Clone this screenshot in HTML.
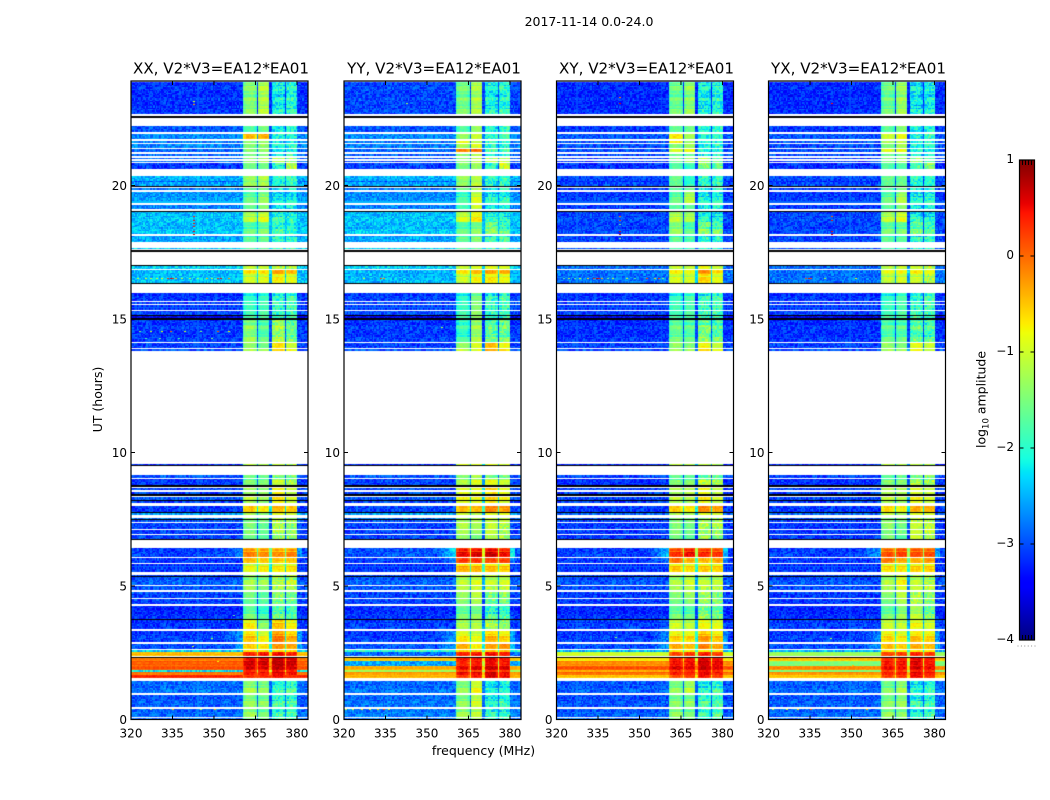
<!DOCTYPE html>
<html lang="en">
<head>
<meta charset="utf-8">
<title>2017-11-14 0.0-24.0</title>
<style>
html,body{margin:0;padding:0;background:#fff;}
#figure{position:relative;width:1050px;height:800px;overflow:hidden;background:#fff;}
#figure canvas{position:absolute;}
#overlay{position:absolute;left:0;top:0;}
text{font-family:"DejaVu Sans","Liberation Sans",sans-serif;fill:#000;}
</style>
</head>
<body>
<div id="figure">
<svg id="overlay" width="1050" height="800" viewBox="0 0 1050 800">
<text x="589" y="26" text-anchor="middle" font-size="12.5">2017-11-14 0.0-24.0</text>
<text x="0" y="0" transform="translate(102,399.5) rotate(-90)" text-anchor="middle" font-size="12.5">UT (hours)</text>
<text x="483.5" y="755" text-anchor="middle" font-size="12.5">frequency (MHz)</text>
<text x="0" y="0" transform="translate(985.5,399.5) rotate(-90)" text-anchor="middle" font-size="12.5">log<tspan font-size="8.5" dy="3">10</tspan><tspan dy="-3"> amplitude</tspan></text>
</svg>
</div>
<script>
// ---------- chart data ----------
const panelTitles = ["XX, V2*V3=EA12*EA01","YY, V2*V3=EA12*EA01","XY, V2*V3=EA12*EA01","YX, V2*V3=EA12*EA01"];
const xTickValues = [320,335,350,365,380];
const yTickValues = [0,5,10,15,20];
const colorbarTicks = [1,0,-1,-2,-3,-4];
// band edges in MHz: four bright bands separated by narrow notches
const bandEdges = [[360.5,365.2],[365.7,370.0],[370.6,375.3],[375.7,380.0]];
// observed UT intervals (hours): everything else is blank
const segmentTimes = [
[22.66,23.88],[22.01,22.23],[21.74,21.94],[21.60,21.67],[21.42,21.54],[21.25,21.36],[21.12,21.19],[20.99,21.04],[20.88,20.92],[20.61,20.83],
[20.17,20.34],[20.14,20.17],[20.07,20.14],[20.04,20.07],[19.98,20.04],[19.85,19.92],[19.36,19.77],[19.11,19.27],[18.63,19.02],[18.19,18.63],
[17.87,18.11],[17.61,17.66],[16.88,16.97],[16.68,16.85],[16.36,16.68],[15.69,15.97],[15.57,15.64],[15.35,15.52],[15.15,15.30],[15.02,15.10],
[14.14,14.99],[13.90,14.10],[13.81,13.87],[9.53,9.57],[9.04,9.16],[8.77,9.00],[8.60,8.68],[8.46,8.52],[8.22,8.33],[8.12,8.22],
[7.77,7.98],[7.65,7.72],[7.50,7.54],[7.40,7.47],[7.14,7.36],[6.95,7.08],[6.75,6.92],[6.09,6.42],[5.87,6.04],[5.54,5.81],
[5.37,5.41],[5.04,5.33],[4.85,5.00],[4.55,4.76],[4.31,4.50],[3.76,4.26],[3.40,3.72],[2.91,3.31],[2.64,2.84],[2.53,2.60],
[2.36,2.52],[2.18,2.33],[2.00,2.18],[1.85,2.00],[1.78,1.85],[1.68,1.78],[1.55,1.68],[0.99,1.44],[0.48,0.93],[0.10,0.39],[0.02,0.07]];
// log10 amplitude per segment: [background, band1, band2, band3, band4, optional shoulder]
const levelsXX = [
[-3.15,-1.45,-1.2,-2.15,-2.05],[-3.0,-1.9,-1.7,-2.3,-2.2],[-2.75,-0.6,-0.55,-2.25,-2.2],[-2.8,-1.5,-1.4,-2.3,-2.2],[-2.75,-1.6,-1.5,-2.2,-2.1],[-2.95,-1.6,-1.5,-2.3,-2.2],[-2.9,-1.6,-1.6,-2.2,-2.0],[-2.9,-1.5,-1.3,-1.3,-1.4],[-2.9,-1.5,-1.3,-1.2,-1.3],[-3.15,-1.7,-1.75,-2.2,-1.3],
[-2.55,-1.4,-1.3,-2.1,-2.0],[-2.95,-1.6,-1.5,-2.2,-2.1],[-2.6,-1.4,-1.3,-2.1,-2.0],[-3.0,-1.6,-1.5,-2.2,-2.2],[-2.6,-1.3,-1.2,-2.1,-2.1],[-2.8,-1.7,-1.6,-2.3,-2.2],[-2.65,-1.7,-1.45,-2.3,-2.2],[-2.8,-1.8,-1.6,-2.4,-2.3],[-2.45,-1.2,-1.0,-2.0,-2.1],[-2.45,-1.7,-1.55,-1.9,-2.0],
[-2.6,-1.8,-1.75,-2.1,-2.1],[-2.4,-1.8,-1.8,-2.0,-2.0],[-2.4,-1.2,-1.2,-1.3,-1.3],[-2.5,-0.8,-0.8,-0.45,-0.6],[-2.45,-1.1,-1.0,-0.85,-1.0],[-3.15,-2.1,-2.0,-2.1,-1.9],[-3.1,-2.0,-1.9,-2.0,-1.9],[-3.15,-2.05,-2.0,-2.1,-2.0],[-3.1,-2.0,-1.9,-2.1,-2.0],[-3.5,-1.9,-1.9,-2.0,-2.0],
[-3.1,-1.4,-1.7,-1.3,-1.6],[-3.1,-1.5,-1.7,-0.8,-1.2],[-3.0,-1.3,-1.4,-0.6,-0.9],[-3.2,-1.2,-1.3,-1.2,-1.3],[-3.0,-1.7,-1.8,-1.8,-1.7],[-3.15,-1.6,-1.6,-1.2,-1.4],[-3.1,-1.4,-1.5,-0.9,-1.2],[-3.1,-1.4,-1.4,-0.9,-1.2],[-3.0,-1.2,-1.4,-0.8,-1.1],[-3.1,-1.3,-1.5,-0.9,-1.2],
[-3.15,-0.7,-0.9,-0.6,-0.7],[-2.6,-1.3,-1.5,-1.0,-1.1],[-2.8,-1.5,-1.6,-1.2,-1.3],[-3.0,-1.6,-1.6,-1.3,-1.3],[-3.1,-1.6,-1.8,-1.4,-1.5],[-3.1,-1.6,-1.8,-1.4,-1.5],[-3.1,-1.7,-1.9,-1.5,-1.6],[-3.1,-0.25,-0.3,-0.35,-0.3,-2.7],[-3.15,-0.55,-0.65,-0.65,-0.6],[-3.15,-0.95,-0.85,-0.85,-0.8],
[-3.1,-1.4,-1.5,-1.4,-1.3],[-2.95,-1.35,-1.4,-1.3,-1.25],[-3.0,-1.4,-1.6,-1.4,-1.4],[-3.1,-1.7,-1.9,-1.6,-1.7],[-3.1,-1.8,-1.9,-1.7,-1.8],[-3.2,-1.6,-1.9,-1.7,-1.8],[-3.15,-0.85,-1.5,-0.6,-0.9],[-3.1,-0.6,-0.9,-0.2,-0.5,-2.6],[-3.05,-0.7,-0.8,-0.4,-0.5,-2.6],[-2.4,-0.7,-0.7,-0.7,-0.7],
[-0.65,0.25,0.3,0.35,0.25],[-0.3,0.4,0.45,0.55,0.45],[-0.15,0.5,0.5,0.6,0.5],[-0.1,0.45,0.45,0.55,0.45],[-2.3,0.25,0.25,0.35,0.3],[-0.25,0.3,0.35,0.45,0.35],[0.15,0.15,0.2,0.35,0.2],[-2.85,-1.35,-1.45,-2.0,-1.9],[-2.95,-1.4,-1.5,-1.9,-1.9],[-2.9,-1.4,-1.6,-2.0,-1.9],[-2.9,-1.6,-1.6,-1.9,-1.9]];
const levelsYY = [
[-3.05,-1.55,-1.25,-2.1,-2.0],[-3.0,-1.9,-1.5,-2.2,-2.1],[-2.75,-1.5,-1.2,-2.1,-2.0],[-2.8,-0.9,-1.2,-2.1,-2.1],[-2.8,-1.4,-1.1,-2.15,-2.1],[-2.9,-0.3,-0.2,-2.0,-2.0],[-2.95,-1.5,-1.3,-2.2,-2.1],[-3.0,-1.5,-1.2,-1.3,-1.4],[-3.0,-1.5,-1.2,-1.2,-1.3],[-3.1,-1.7,-1.5,-2.1,-1.3],
[-2.55,-1.4,-1.3,-2.1,-2.0],[-2.95,-1.6,-1.4,-2.2,-2.1],[-2.6,-1.4,-1.2,-2.1,-2.0],[-3.0,-1.6,-1.5,-2.2,-2.2],[-2.6,-1.4,-1.1,-2.1,-2.1],[-2.8,-1.6,-1.3,-2.2,-2.1],[-2.7,-1.9,-1.05,-2.2,-2.1],[-2.8,-2.0,-1.2,-2.3,-2.2],[-2.45,-1.05,-0.8,-2.0,-2.1],[-2.45,-1.7,-1.5,-1.55,-1.8],
[-2.6,-1.8,-1.6,-2.0,-2.0],[-2.4,-1.8,-1.8,-2.0,-2.0],[-2.4,-1.2,-1.1,-1.0,-1.1],[-2.55,-0.8,-0.6,-0.45,-0.5],[-2.5,-1.1,-0.9,-0.8,-0.95],[-3.1,-2.1,-1.6,-2.1,-1.9],[-3.05,-2.0,-1.5,-2.0,-1.9],[-3.1,-2.05,-1.6,-2.1,-2.0],[-3.05,-2.0,-1.5,-2.1,-2.0],[-3.5,-1.9,-1.5,-2.0,-2.0],
[-3.1,-1.9,-1.3,-1.7,-1.6],[-3.1,-1.5,-1.1,-0.6,-1.0],[-3.0,-1.1,-1.0,-0.4,-0.7],[-3.2,-1.0,-1.0,-1.0,-1.1],[-3.0,-1.6,-1.4,-1.7,-1.6],[-3.1,-1.3,-1.1,-1.0,-1.2],[-3.05,-1.0,-1.0,-0.7,-1.0],[-3.05,-1.0,-1.0,-0.7,-1.0],[-3.0,-0.9,-1.0,-0.7,-0.9],[-3.05,-1.0,-1.0,-0.8,-1.1],
[-3.1,-0.6,-0.6,-0.3,-0.45],[-2.6,-1.1,-1.3,-1.0,-1.0],[-2.8,-1.3,-1.3,-1.1,-1.2],[-3.0,-1.4,-1.3,-1.2,-1.2],[-3.1,-1.3,-1.4,-1.2,-1.3],[-3.1,-1.35,-1.5,-1.2,-1.3],[-3.1,-1.5,-1.7,-1.3,-1.4],[-3.0,0.4,0.45,0.5,0.35,-2.15],[-3.1,0.1,0.15,0.05,0.05,-2.7],[-3.15,-0.5,-0.55,-0.6,-0.65],
[-3.1,-1.2,-1.2,-1.2,-1.1],[-2.95,-1.2,-1.05,-1.15,-1.1],[-3.0,-1.3,-1.2,-1.3,-1.3],[-3.1,-1.5,-1.3,-1.7,-1.6],[-3.1,-1.6,-1.4,-1.8,-1.7],[-3.15,-1.6,-1.5,-1.9,-1.9],[-3.1,-1.3,-1.3,-1.3,-1.4],[-3.1,-0.8,-1.0,-0.5,-0.7,-2.6],[-3.0,-0.5,-0.9,-0.5,-0.35,-2.5],[-2.0,-0.6,-0.6,-0.6,-0.6],
[-2.9,0.25,0.3,0.35,0.25],[-0.7,0.3,0.3,0.4,0.3],[-2.6,0.2,0.25,0.35,0.25],[-0.6,0.4,0.45,0.55,0.45],[-1.4,0.1,0.1,0.2,0.15],[-0.45,0.4,0.4,0.55,0.4],[-0.6,0.1,0.25,0.45,0.35],[-2.85,-1.4,-0.95,-2.15,-2.05],[-2.85,-1.45,-1.1,-2.05,-2.0],[-2.8,-1.35,-1.2,-2.1,-2.05],[-2.8,-1.5,-1.4,-2.0,-2.0]];
const levelsXY = [
[-3.2,-1.6,-1.4,-2.15,-2.05],[-3.15,-1.8,-1.7,-2.2,-2.1],[-3.0,-0.85,-1.4,-2.2,-2.1],[-3.0,-0.8,-1.4,-2.2,-2.1],[-3.05,-1.6,-1.4,-2.2,-2.1],[-3.05,-1.1,-0.95,-2.2,-2.2],[-3.05,-1.7,-1.7,-2.2,-2.1],[-3.1,-1.6,-1.4,-1.3,-1.8],[-3.1,-1.6,-1.4,-1.3,-1.8],[-3.2,-1.9,-2.1,-1.6,-1.8],
[-3.05,-1.7,-2.1,-2.1,-2.1],[-3.25,-1.8,-2.1,-2.2,-2.1],[-3.05,-1.7,-2.1,-2.1,-2.0],[-3.3,-1.8,-2.2,-2.2,-2.2],[-3.05,-1.7,-2.0,-2.1,-2.1],[-3.1,-1.8,-1.7,-2.2,-2.1],[-3.1,-1.7,-1.25,-2.2,-2.1],[-3.15,-1.85,-1.8,-2.3,-2.2],[-3.05,-1.2,-1.3,-2.1,-2.2],[-3.05,-1.4,-1.75,-1.5,-1.7],
[-3.1,-1.8,-1.95,-2.1,-2.1],[-3.0,-1.9,-2.0,-2.1,-2.1],[-2.9,-1.2,-1.2,-1.0,-1.2],[-2.85,-0.85,-0.95,-0.35,-0.8],[-2.85,-1.05,-1.1,-0.7,-1.0],[-3.15,-2.05,-1.9,-2.05,-1.9],[-3.1,-2.0,-1.9,-2.0,-1.9],[-3.15,-2.0,-1.95,-2.05,-2.0],[-3.1,-2.0,-1.9,-2.0,-2.0],[-3.5,-1.9,-1.9,-2.0,-2.0],
[-3.15,-1.6,-1.7,-1.5,-1.7],[-3.1,-1.5,-1.6,-0.9,-1.2],[-3.05,-1.3,-1.4,-0.7,-1.0],[-3.2,-1.2,-1.3,-1.2,-1.3],[-3.1,-1.8,-1.8,-1.8,-1.7],[-3.2,-1.6,-1.6,-1.3,-1.4],[-3.1,-1.3,-1.3,-0.9,-1.2],[-3.1,-1.3,-1.3,-0.9,-1.2],[-3.1,-1.2,-1.3,-0.8,-1.1],[-3.1,-1.3,-1.4,-0.9,-1.2],
[-3.15,-0.7,-0.85,-0.35,-0.5],[-2.9,-1.3,-1.4,-1.0,-1.1],[-3.0,-1.5,-1.5,-1.3,-1.3],[-3.1,-1.6,-1.6,-1.4,-1.3],[-3.15,-1.6,-1.7,-1.4,-1.3],[-3.15,-1.6,-1.7,-1.4,-1.4],[-3.15,-1.7,-1.9,-1.5,-1.6],[-3.1,0.15,0.35,0.2,0.15,-2.4],[-3.15,-0.15,-0.55,-0.55,-0.45,-2.8],[-3.15,-0.65,-0.75,-0.65,-0.7],
[-3.1,-1.3,-1.2,-1.3,-1.2],[-3.0,-1.3,-1.1,-1.2,-1.2],[-3.05,-1.4,-1.3,-1.3,-1.3],[-3.15,-1.6,-1.5,-1.5,-1.6],[-3.15,-1.7,-1.6,-1.5,-1.6],[-3.2,-1.6,-1.7,-1.5,-1.6],[-3.1,-1.1,-1.2,-0.9,-1.0],[-3.1,-0.7,-0.75,-0.4,-0.65,-2.7],[-3.05,-0.5,-0.6,-0.3,-0.5,-2.6],[-2.5,-0.8,-0.8,-0.8,-0.8],
[-1.2,0.05,0.15,0.25,0.1],[-0.9,0.25,0.25,0.45,0.3],[-0.4,0.3,0.35,0.5,0.4],[-0.1,0.45,0.4,0.55,0.4],[-0.5,0.2,0.2,0.35,0.25],[-0.2,0.3,0.3,0.45,0.3],[-0.7,0.0,0.1,0.3,0.1],[-2.95,-1.45,-1.2,-2.05,-1.95],[-3.0,-1.5,-1.5,-1.9,-1.85],[-2.95,-1.45,-1.6,-2.0,-1.9],[-2.9,-1.6,-1.6,-1.9,-1.9]];
const levelsYX = [
[-3.2,-1.6,-1.35,-2.2,-2.15],[-3.15,-1.85,-1.6,-2.25,-2.15],[-3.0,-1.2,-1.0,-2.2,-2.1],[-3.0,-1.3,-1.2,-2.2,-2.1],[-3.05,-1.6,-1.4,-2.2,-2.1],[-3.05,-1.1,-1.0,-2.2,-2.2],[-3.05,-1.7,-1.6,-2.2,-2.1],[-3.1,-1.6,-1.4,-1.5,-1.8],[-3.1,-1.6,-1.4,-1.4,-1.8],[-3.2,-1.9,-1.9,-2.0,-1.7],
[-3.05,-1.7,-1.7,-2.1,-2.1],[-3.25,-1.8,-1.8,-2.2,-2.1],[-3.05,-1.7,-1.7,-2.1,-2.0],[-3.3,-1.8,-1.9,-2.2,-2.2],[-3.05,-1.7,-1.6,-2.1,-2.1],[-3.1,-1.8,-1.6,-2.2,-2.1],[-3.1,-1.7,-1.3,-2.2,-2.1],[-3.15,-1.85,-1.6,-2.3,-2.2],[-3.05,-1.2,-1.0,-2.1,-2.2],[-3.05,-1.6,-1.6,-1.6,-1.8],
[-3.1,-1.8,-1.8,-2.1,-2.1],[-3.0,-1.9,-2.0,-2.1,-2.1],[-2.9,-1.3,-1.2,-1.2,-1.3],[-2.85,-1.0,-0.95,-0.85,-1.0],[-2.85,-1.2,-1.1,-1.1,-1.3],[-3.15,-2.05,-1.9,-2.1,-1.9],[-3.1,-2.0,-1.9,-2.0,-1.9],[-3.15,-2.05,-1.95,-2.1,-2.0],[-3.1,-2.0,-1.9,-2.0,-2.0],[-3.5,-1.9,-1.9,-2.0,-2.0],
[-3.15,-1.7,-1.7,-1.7,-1.8],[-3.1,-1.5,-1.6,-1.0,-1.2],[-3.05,-1.3,-1.4,-0.9,-1.1],[-3.2,-1.2,-1.3,-1.2,-1.3],[-3.1,-1.8,-1.8,-1.8,-1.7],[-3.2,-1.6,-1.6,-1.3,-1.4],[-3.1,-1.3,-1.3,-1.0,-1.2],[-3.1,-1.3,-1.3,-1.0,-1.2],[-3.1,-1.2,-1.3,-0.9,-1.1],[-3.1,-1.3,-1.4,-1.0,-1.2],
[-3.15,-0.8,-0.95,-0.55,-0.55],[-2.9,-1.2,-1.4,-1.0,-1.1],[-3.0,-1.5,-1.5,-1.3,-1.3],[-3.1,-1.5,-1.6,-1.3,-1.3],[-3.15,-1.5,-1.7,-1.2,-1.3],[-3.15,-1.6,-1.7,-1.2,-1.3],[-3.15,-1.6,-1.9,-1.2,-1.3],[-3.1,0.0,0.1,0.05,0.0,-2.6],[-3.15,-0.2,-0.45,-0.5,-0.4],[-3.15,-0.75,-0.8,-0.7,-0.7],
[-3.1,-1.3,-1.1,-1.3,-1.3],[-3.0,-1.3,-0.9,-1.2,-1.3],[-3.05,-1.4,-1.1,-1.2,-1.3],[-3.15,-1.6,-1.3,-1.4,-1.6],[-3.15,-1.7,-1.4,-1.4,-1.6],[-3.2,-1.6,-1.4,-1.2,-1.6],[-3.1,-1.1,-1.2,-0.9,-1.1],[-3.1,-0.7,-0.85,-0.6,-0.7,-2.7],[-3.05,-0.6,-0.7,-0.5,-0.6,-2.6],[-2.5,-0.8,-0.8,-0.8,-0.8],
[-1.5,0.05,0.1,0.2,0.1],[-0.7,0.2,0.2,0.4,0.25],[-1.7,0.25,0.3,0.45,0.3],[-0.4,0.35,0.3,0.5,0.35],[-1.6,0.15,0.15,0.3,0.2],[-0.4,0.3,0.3,0.45,0.3],[-0.7,0.05,0.1,0.35,0.15],[-2.9,-1.5,-1.35,-2.1,-2.0],[-2.95,-1.5,-1.4,-2.0,-1.95],[-2.9,-1.45,-1.5,-2.05,-1.95],[-2.9,-1.6,-1.6,-2.0,-2.0]];
const panelLevels = [levelsXX,levelsYY,levelsXY,levelsYX];
// flagged scans drawn black: [UT hour, duration in hours]
const blackScans = [[22.58,0.07],[19.95,0.05],[19.05,0.025],[17.55,0.07],[17.00,0.04],[16.35,0.03],[15.12,0.05],[15.00,0.06],[9.51,0.03],[8.74,0.08],[8.40,0.08],[8.18,0.05],[7.75,0.04],[7.49,0.02],[6.74,0.03],[5.35,0.04],[3.74,0.03],[2.34,0.03]];
// isolated interference spikes: [panel, UT, MHz, level]
const hotPixels = [
[0,23.05,342.5,-0.2],[0,23.15,342.5,-0.9],[0,18.85,342.5,0.3],[0,18.7,342.5,0.5],[0,18.6,342.5,0.5],[0,18.5,342.5,0.4],[0,18.3,342.5,0.5],[0,18.2,342.5,0.6],
[0,16.52,322,-1.0],[0,16.52,325,-0.9],[0,16.52,327,-1.0],[0,16.52,329,-0.9],[0,16.52,331,-0.8],[0,16.52,333,0.3],[0,16.52,334,0.6],[0,16.52,335,0.4],[0,16.52,336,-0.6],[0,16.52,338,-1.1],[0,16.52,341,-1.1],[0,16.52,344,-1.3],[0,16.52,347,-0.4],[0,16.52,349,-1.1],[0,16.52,351,0.3],[0,16.52,352,0.5],[0,16.52,355,-0.2],
[0,14.54,323,-1.5],[0,14.54,327,-1.0],[0,14.54,331,-0.8],[0,14.54,334,0.0],[0,14.54,339,-1.0],[0,14.54,345,-1.5],[0,14.54,351,0.2],[0,14.54,355,-0.7],[0,14.3,325,-1.8],[0,14.3,330,-1.7],[0,14.3,337,-1.8],[0,14.3,349,-1.5],
[0,2.2,351,-0.8],[0,3.9,357,-1.7],[0,3.05,349,-1.2],[0,2.75,342,-1.0],[0,0.38,335,-0.4],[0,0.38,350,-0.3],[0,0.38,345,-1.2],[0,0.38,327,-1.4],
[1,16.52,333,0.2],[1,16.52,334,-0.3],[1,16.52,327,-1.0],[1,0.38,320.5,-1.0],[1,0.38,323,-0.9],[1,0.38,326,-0.7],[1,0.38,329,-0.9],[1,0.38,332,-0.5],[1,0.38,334,0.2],[1,0.38,336,-1.0],[1,23.1,342.5,-1.3],[1,14.7,355,-1.2],
[2,23.3,342.5,-0.2],[2,23.1,342.5,0.6],[2,18.85,342.5,0.1],[2,18.7,342.5,0.4],[2,18.55,342.5,-1.6],[2,18.3,342.5,0.6],[2,18.2,342.5,0.7],[2,18.05,342.5,-1.4],
[2,16.52,324,-1.3],[2,16.52,328,-1.0],[2,16.52,331,-0.7],[2,16.52,333,0.2],[2,16.52,334,0.7],[2,16.52,335,0.5],[2,16.52,336,-0.3],[2,16.52,340,-1.0],[2,16.52,345,-1.0],[2,16.52,352,0.2],[2,16.52,355,-0.6],[2,16.52,356.5,0.2],[2,16.52,358,-1.5],[2,16.52,322,-1.8],[2,16.52,326,-1.7],[2,16.52,338,-1.6],[2,16.52,348,-1.7],
[2,3.1,341,-1.4],[2,2.65,346,-1.1],[2,2.05,351,-0.4],
[3,23.1,342.5,0.4],[3,18.85,342.5,0.1],[3,18.7,342.5,0.5],[3,18.3,342.5,0.5],[3,18.2,342.5,0.6],[3,16.52,333,0.2],[3,16.52,334,0.5],[3,16.52,335,0.1],[3,16.52,340,-1.2],[3,16.52,351,-0.8],[3,0.38,321,-1.0],[3,0.38,326,-0.9],[3,0.38,330,-0.6],[3,0.38,335,0.2],[3,0.38,355,-0.3],[3,2.05,350,-0.5],[3,3.05,342,-1.2]];
// fine-grain texture offsets, hand-listed, in units of the local noise amplitude
const speckle = [0.4,-0.7,0.9,-0.2,0.1,-1,0.6,0.3,-0.5,0.8,-0.9,0.2,-0.3,1,-0.6,0.5,-0.1,-0.8,0.7,0,-0.4,0.3,0.9,-0.7,0.2,-1,0.5,-0.2,0.8,-0.5,0.1,0.6,-0.9,0.4,-0.3,0.7,-0.6,1,0,-0.8,0.3,-0.1,0.9,-0.4,0.5,-1,0.2,0.6,-0.7,0.1,0.8,-0.3,-0.9,0.4,0.7,-0.5,0,1,-0.2,-0.6,0.3];
// scan-to-scan amplitude stripes (log10 units)
const rowOffsets = [0.05,-0.08,0.02,0.1,-0.04,-0.11,0.07,0,-0.06,0.12,-0.02,0.04,-0.09,0.08,-0.05,0.03,0.11];

// ---------- layout and scales ----------
const panelLefts = [131,344,556.5,768.5];
const panelWidth = 177;
const plotTop = 81, plotBottom = 719.5;
const pxPerHour = 26.7, pxPerMHz = 2.766;
const channelWidth = 0.5, rowHours = 0.05;
const yScale = ut => plotBottom - ut * pxPerHour;
const xScale = (left, mhz) => left + (mhz - 320) * pxPerMHz;
const NS = 'http://www.w3.org/2000/svg';
const figure = document.getElementById('figure');
const overlay = document.getElementById('overlay');

function jet(t){
  t = Math.max(0, Math.min(1, t));
  const p = (x, pts) => {
    for (let i = 1; i < pts.length; i++) if (x <= pts[i][0]) {
      const a = pts[i-1], b = pts[i];
      return a[1] + (b[1]-a[1]) * (x-a[0]) / (b[0]-a[0]);
    }
    return pts[pts.length-1][1];
  };
  const r = p(t, [[0,0],[0.35,0],[0.66,1],[0.89,1],[1,0.5]]);
  const g = p(t, [[0,0],[0.125,0],[0.375,1],[0.64,1],[0.91,0],[1,0]]);
  const b = p(t, [[0,0.5],[0.11,1],[0.34,1],[0.65,0],[1,0]]);
  return 'rgb(' + Math.round(r*255) + ',' + Math.round(g*255) + ',' + Math.round(b*255) + ')';
}
const levelColor = v => jet((v + 4) / 5);

function cellLevel(row, mhz, i, j, si){
  const bg = row[0];
  const sA = speckle[(i * 7 + j * 13 + i * j) % speckle.length];
  const sB = rowOffsets[(j * 3 + si) % rowOffsets.length];
  for (let b = 0; b < bandEdges.length; b++) {
    const e = bandEdges[b];
    if (mhz >= e[0] && mhz < e[1]) {
      const amp = (b >= 2 && row[b+1] < -1.2) ? 0.38 : 0.13;
      const u = 2 * (mhz - e[0]) / (e[1] - e[0]) - 1;
      return row[b+1] + sA * amp + sB * 2 - 0.3 * u * u * u * u;
    }
  }
  if (mhz >= bandEdges[0][0] && mhz < bandEdges[3][1]) {
    const low = Math.min(row[1], row[2], row[3], row[4]);
    return Math.max(bg, low - 1.3) + sA * 0.2;
  }
  const noiseAmp = bg > -2 ? 0.1 : 0.3;
  const rowAmp = bg > -2 ? 2.5 : 0.5;
  if (row.length > 5) {
    if (mhz >= 380) return (mhz < 382 ? row[5] : bg) + sA * noiseAmp;
    if (mhz >= 353) {
      const w = (mhz - 353) / 7.5;
      return bg + (row[5] - bg) * w + sA * noiseAmp;
    }
  }
  return bg + sA * noiseAmp + sB * rowAmp;
}

// ---------- heatmaps ----------
panelLefts.forEach((left, pi) => {
  const cv = document.createElement('canvas');
  
  
  const w = Math.ceil(panelWidth), h = Math.ceil(plotBottom - plotTop);
  cv.width = w; cv.height = h;
  cv.style.left = left + 'px';
  cv.style.top = plotTop + 'px';
  figure.insertBefore(cv, overlay);
  const ctx = cv.getContext('2d');
  const levels = panelLevels[pi];
  const nChan = Math.round((384 - 320) / channelWidth);
  segmentTimes.forEach((seg, si) => {
    const row = levels[si];
    const nRows = Math.max(1, Math.round((seg[1] - seg[0]) / rowHours));
    const dt = (seg[1] - seg[0]) / nRows;
    for (let j = 0; j < nRows; j++) {
      const ut0 = seg[0] + j * dt;
      const y0 = Math.round(yScale(ut0 + dt) - plotTop);
      const y1 = Math.max(y0 + 1, Math.round(yScale(ut0) - plotTop));
      for (let i = 0; i < nChan; i++) {
        const mhz = 320 + i * channelWidth;
        const x0 = Math.round(xScale(0, mhz));
        const x1 = Math.round(xScale(0, mhz + channelWidth));
        ctx.fillStyle = levelColor(cellLevel(row, mhz + 0.01, i + pi * 17, j + si * 11, si));
        ctx.fillRect(x0, y0, x1 - x0, y1 - y0);
      }
    }
  });
  hotPixels.filter(h2 => h2[0] === pi).forEach(hp => {
    ctx.fillStyle = levelColor(hp[3]);
    ctx.fillRect(Math.round(xScale(0, hp[2])), Math.round(yScale(hp[1]) - plotTop), 2, 1);
  });
  ctx.fillStyle = '#000';
  blackScans.forEach(bs => {
    const y0 = Math.round(yScale(bs[0] + bs[1] / 2) - plotTop);
    const hh = Math.max(1, Math.round(bs[1] * pxPerHour));
    ctx.fillRect(0, y0, w, hh);
  });
});

// ---------- axes ----------
function svgEl(tag){ return document.createElementNS(NS, tag); }
function drawLine(x1, y1, x2, y2, sw){
  const l = svgEl('line');
  l.setAttribute('x1', x1); l.setAttribute('y1', y1);
  l.setAttribute('x2', x2); l.setAttribute('y2', y2);
  l.setAttribute('stroke', '#000');
  l.setAttribute('stroke-width', sw || 1);
  overlay.appendChild(l);
  return l;
}
function drawText(str, x, y, anchor, size){
  const t = svgEl('text');
  t.setAttribute('x', x); t.setAttribute('y', y);
  t.setAttribute('text-anchor', anchor);
  t.setAttribute('font-size', size);
  t.textContent = str;
  overlay.appendChild(t);
  return t;
}
panelLefts.forEach((left, pi) => {
  const frame = svgEl('rect');
  frame.setAttribute('x', left);
  frame.setAttribute('y', plotTop);
  frame.setAttribute('width', panelWidth);
  frame.setAttribute('height', plotBottom - plotTop);
  frame.setAttribute('fill', 'none');
  frame.setAttribute('stroke', '#000');
  frame.setAttribute('stroke-width', '1.2');
  
  
  overlay.appendChild(frame);

  const title = drawText(panelTitles[pi], left + panelWidth / 2 + 1.5, 73.5, 'middle', 15.1);
  
  

  xTickValues.forEach(v => {
    const x = xScale(left, v);
    const tb = drawLine(x, plotBottom, x, plotBottom - 4);
    
    
    const tt = drawLine(x, plotTop, x, plotTop + 4);
    
    
    const lab = drawText(String(v), x, 737.5, 'middle', 12);
    
    
  });
  yTickValues.forEach(v => {
    const y = yScale(v);
    const tl = drawLine(left, y, left + 4, y);
    
    
    const tr = drawLine(left + panelWidth, y, left + panelWidth - 4, y);
    
    
    const lab = drawText(String(v), left - 4, y + 4.4, 'end', 12);
    
    
  });
});

// ---------- colorbar ----------
const cbLeft = 1019.5, cbWidth = 15, cbTop = 160, cbBottom = 640;
const cbScale = v => cbBottom - (v + 4) / 5 * (cbBottom - cbTop);
const defs = svgEl('defs');
const grad = svgEl('linearGradient');
grad.setAttribute('id', 'jet-gradient');
grad.setAttribute('x1', '0'); grad.setAttribute('y1', '1');
grad.setAttribute('x2', '0'); grad.setAttribute('y2', '0');
for (let i = 0; i <= 100; i++) {
  const s = svgEl('stop');
  s.setAttribute('offset', (i / 100));
  s.setAttribute('stop-color', jet(i / 100));
  grad.appendChild(s);
}
defs.appendChild(grad);
overlay.appendChild(defs);
const cbRect = svgEl('rect');
cbRect.setAttribute('x', cbLeft);
cbRect.setAttribute('y', cbTop);
cbRect.setAttribute('width', cbWidth);
cbRect.setAttribute('height', cbBottom - cbTop);
cbRect.setAttribute('fill', 'url(#jet-gradient)');
cbRect.setAttribute('stroke', '#000');
cbRect.setAttribute('stroke-width', '1.2');


overlay.appendChild(cbRect);
colorbarTicks.forEach(v => {
  const y = cbScale(v);
  const a = drawLine(cbLeft, y, cbLeft + 4, y);
  
  
  const b = drawLine(cbLeft + cbWidth, y, cbLeft + cbWidth - 4, y);
  
  
  const lab = drawText(String(v).replace('-', '\u2212'), cbLeft - 5.5, y + 3, 'end', 12);
  
  
});
[3,6,9,12].forEach(dx => {
  const a = drawLine(cbLeft + dx, cbTop, cbLeft + dx, cbTop + 5);
  
  
  const b = drawLine(cbLeft + dx, cbBottom, cbLeft + dx, cbBottom - 5);
  
  
});
[0,1,2,3,4,5].forEach(k => {
  const d = svgEl('circle');
  d.setAttribute('cx', 1018 + k * 3.4);
  d.setAttribute('cy', 646);
  d.setAttribute('r', 0.55);
  d.setAttribute('fill', '#777');
  
  
  overlay.appendChild(d);
});
</script>
</body>
</html>
